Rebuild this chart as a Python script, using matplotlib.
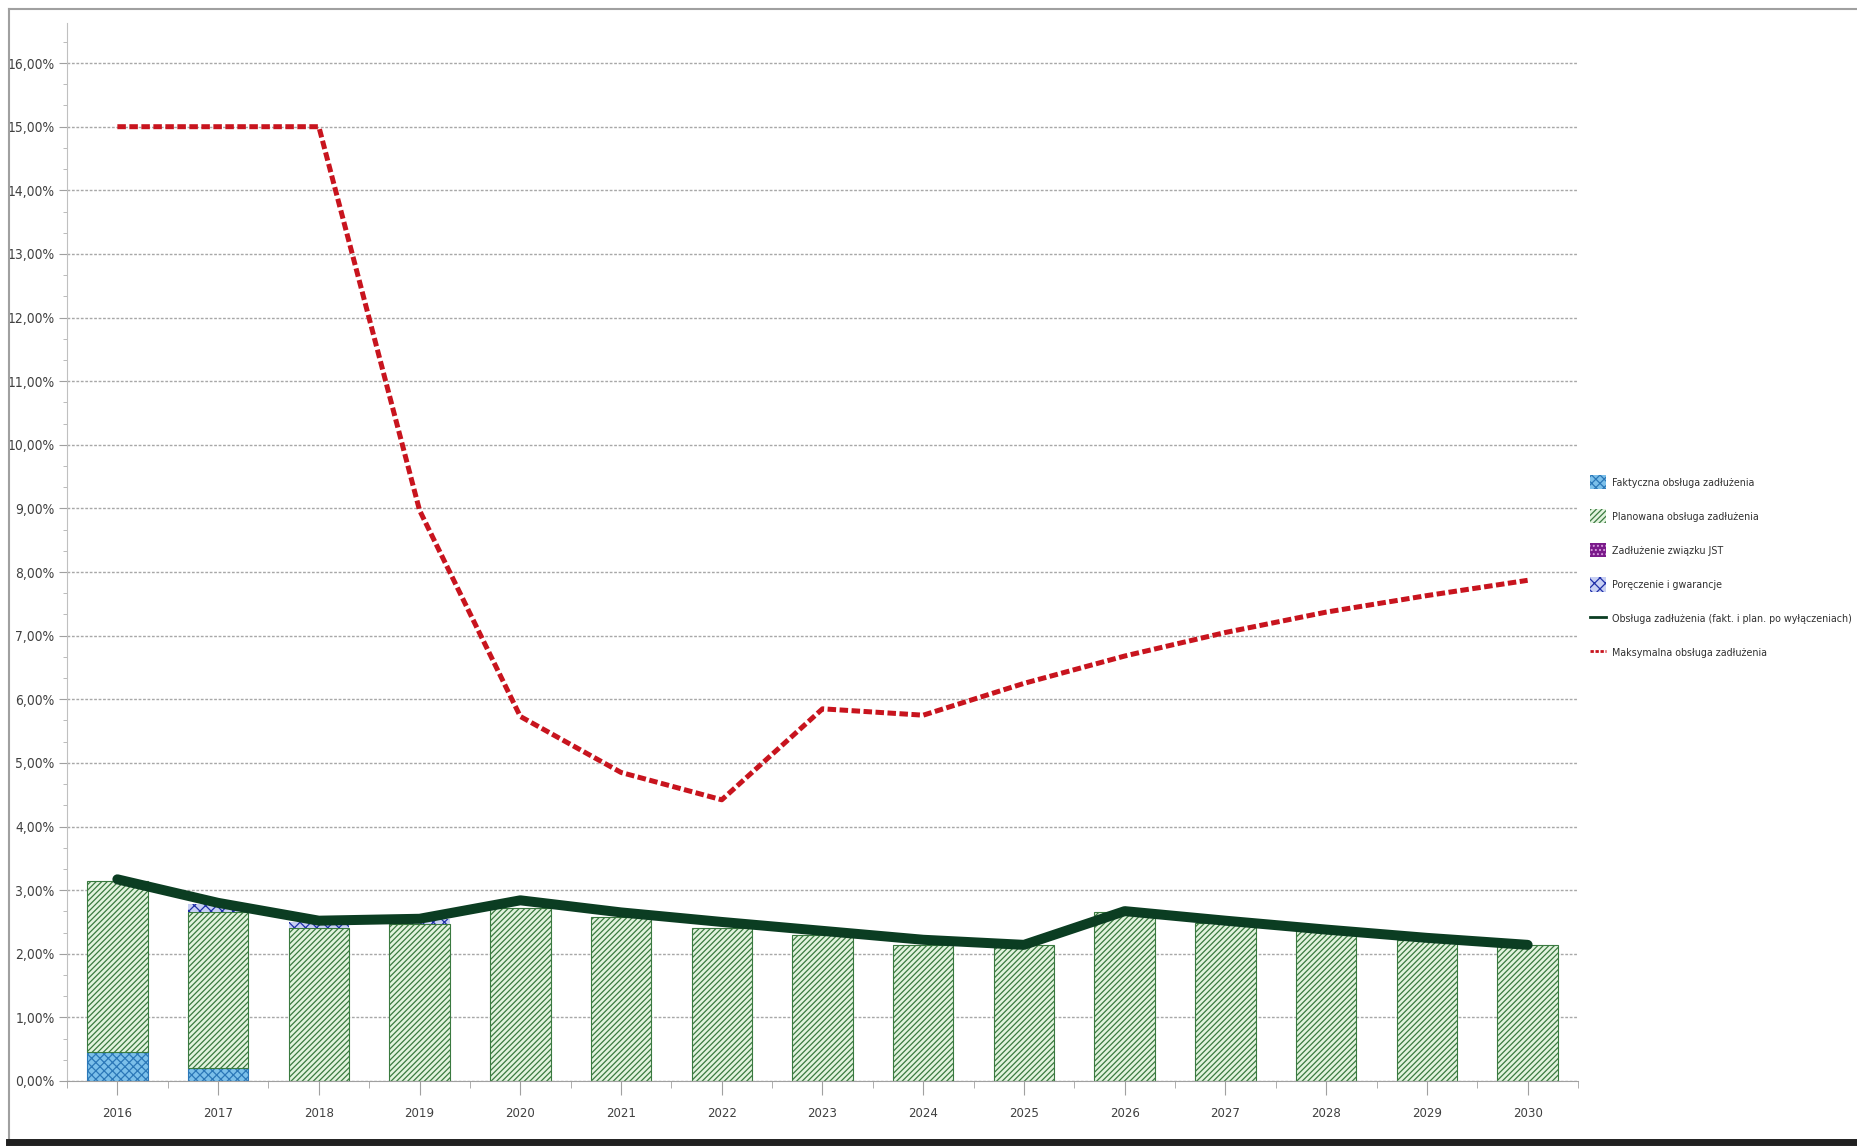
import matplotlib
matplotlib.use("Agg")
import matplotlib.pyplot as plt
import numpy as np
from matplotlib.patches import Patch
from matplotlib.lines import Line2D
from matplotlib import font_manager as fm

years = [2016, 2017, 2018, 2019, 2020, 2021, 2022, 2023,
         2024, 2025, 2026, 2027, 2028, 2029, 2030]

# values in %
faktyczna = [0.46, 0.20, 0, 0, 0, 0, 0, 0, 0, 0, 0, 0, 0, 0, 0]
planowana = [2.69, 2.46, 2.41, 2.46, 2.72, 2.57, 2.41, 2.30,
             2.14, 2.13, 2.66, 2.49, 2.35, 2.22, 2.14]
zwiazek_jst = [0] * 15
poreczenia = [0, 0.12, 0.09, 0.08, 0, 0, 0, 0, 0, 0, 0, 0, 0, 0, 0]
obsluga = [3.17, 2.80, 2.52, 2.55, 2.84, 2.65, 2.50, 2.36,
           2.22, 2.14, 2.67, 2.52, 2.38, 2.25, 2.14]
maksymalna = [15.0, 15.0, 15.0, 8.97, 5.73, 4.85, 4.42, 5.85,
              5.75, 6.25, 6.68, 7.05, 7.37, 7.63, 7.87]

labels = ["Faktyczna obsługa zadłużenia",
          "Planowana obsługa zadłużenia",
          "Zadłużenie związku JST",
          "Poręczenie i gwarancje",
          "Obsługa zadłużenia (fakt. i plan. po wyłączeniach)",
          "Maksymalna obsługa zadłużenia"]

GREEN_DARK = "#0b3d22"
RED = "#c8141e"
GRID = "#a8a8a8"
TXT = "#404040"


def narrow_font():
    # look for any condensed / narrow face, fall back to DejaVu Sans
    best = None
    for f in fm.fontManager.ttflist:
        st = f.stretch
        narrow = ("Narrow" in f.name or "Condensed" in f.name
                  or (isinstance(st, str) and "condensed" in st)
                  or (isinstance(st, (int, float)) and st < 500))
        if not narrow or f.style != "normal":
            continue
        w = f.weight if isinstance(f.weight, (int, float)) else (400 if f.weight in ("normal", "regular", "book") else 700)
        if w > 500 or w < 300:
            continue
        best = f.fname
        if "Liberation" in f.name or "DejaVu" in f.name:
            break
    if best:
        return fm.FontProperties(fname=best)
    return fm.FontProperties(family="DejaVu Sans")


W, H = 1858, 1146
fig = plt.figure(figsize=(W / 100, H / 100), dpi=100)
ax = fig.add_axes([67 / W, 1 - 1081 / H, (1578 - 67) / W, (1081 - 23) / H])
renderer = fig.canvas.get_renderer()
base = narrow_font()


def fitted(text, width_px, max_size):
    fp = base.copy()
    fp.set_size(10)
    t = fig.text(0, 0, text, fontproperties=fp)
    w = t.get_window_extent(renderer).width
    t.remove()
    fp.set_size(min(max_size, 10 * width_px / w))
    return fp


x = np.arange(len(years))
bw = 0.6
fak = np.array(faktyczna)
pla = np.array(planowana)
zw = np.array(zwiazek_jst)
por = np.array(poreczenia)

sty = [
    dict(facecolor="#7cc0ea", edgecolor="#2c78b8", hatch="xxxx"),
    dict(facecolor="#e2f3de", edgecolor="#3a7a40", hatch="//////"),
    dict(facecolor="#7a1a8a", edgecolor="#d8a0e0", hatch="...."),
    dict(facecolor="#c8d0f4", edgecolor="#1f2fa8", hatch="xxx"),
]
plt.rcParams['hatch.linewidth'] = 0.9

ax.bar(x, fak, bw, **sty[0], linewidth=0.8, zorder=2)
ax.bar(x, pla, bw, bottom=fak, **sty[1], linewidth=0.8, zorder=2)
ax.bar(x, zw, bw, bottom=fak + pla, **sty[2], linewidth=0, zorder=2)
mask = por > 0
ax.bar(x[mask], por[mask], bw, bottom=(fak + pla + zw)[mask], **sty[3],
       linewidth=0, zorder=2)

ax.plot(x, obsluga, color=GREEN_DARK, lw=7.2, solid_capstyle="round",
        solid_joinstyle="round", zorder=4)
ln, = ax.plot(x, maksymalna, color=RED, lw=3.6, zorder=5)
ln.set_dashes((1.7, 0.7))

ax.set_xlim(-0.5, len(years) - 0.5)
ax.set_ylim(0, 16.63)
ax.set_yticks(np.arange(0, 17, 1))
ax.set_yticklabels([f"{v},00%" for v in range(17)])
ax.set_yticks(np.arange(0, 16.6, 1 / 3), minor=True)
ax.set_xticks(x)
ax.set_xticklabels([str(y) for y in years])
ax.set_xticks(np.arange(-0.5, len(years), 1), minor=True)

ax.grid(axis="y", which="major", color=GRID, linestyle=(0, (2, 1.2)), lw=1.0, zorder=0)
for s in ["top", "right"]:
    ax.spines[s].set_visible(False)
ax.spines["left"].set_color("#c0c0c0")
ax.spines["bottom"].set_color("#a0a0a0")
ax.tick_params(axis="y", which="major", length=6, color="#a0a0a0",
               labelcolor=TXT, pad=3)
ax.tick_params(axis="y", which="minor", length=3, color="#b0b0b0")
ax.tick_params(axis="x", which="major", length=10, color="#a0a0a0",
               labelcolor=TXT, pad=9)
ax.tick_params(axis="x", which="minor", length=5, color="#a0a0a0")

fp_y = fitted("16,00%", 47, 12)
fp_x = fitted("2016", 30, 12)
for lbl in ax.get_yticklabels():
    lbl.set_fontproperties(fp_y)
for lbl in ax.get_xticklabels():
    lbl.set_fontproperties(fp_x)

fp_leg = fitted(labels[4], 240, 11)
handles = [Patch(**sty[0], linewidth=0),
           Patch(**sty[1], linewidth=0),
           Patch(**sty[2], linewidth=0),
           Patch(**sty[3], linewidth=0),
           Line2D([], [], color=GREEN_DARK, lw=2),
           Line2D([], [], color=RED, lw=2, dashes=(1.2, 0.6))]
leg_px = fp_leg.get_size_in_points() * 100 / 72
fig.legend(handles, labels, loc="upper left",
           bbox_to_anchor=(1590 / W, 1 - 475 / H), frameon=False,
           prop=fp_leg, handlelength=16 / leg_px, handleheight=18 / leg_px,
           handletextpad=6 / leg_px, labelspacing=(37.8 - 18) / leg_px,
           borderaxespad=0, borderpad=0, labelcolor="#303030")

# frame around the picture
fig.add_artist(Line2D([9 / W, 9 / W], [3 / H, 1 - 9 / H], color="#a0a0a0", lw=1.5,
                      transform=fig.transFigure))
fig.add_artist(Line2D([9 / W, 1], [1 - 9 / H, 1 - 9 / H], color="#a0a0a0", lw=1.5,
                      transform=fig.transFigure))
fig.add_artist(Line2D([9 / W, 1], [4 / H, 4 / H], color="#202020", lw=5,
                      transform=fig.transFigure))

fig.savefig("out.png", dpi=100)
